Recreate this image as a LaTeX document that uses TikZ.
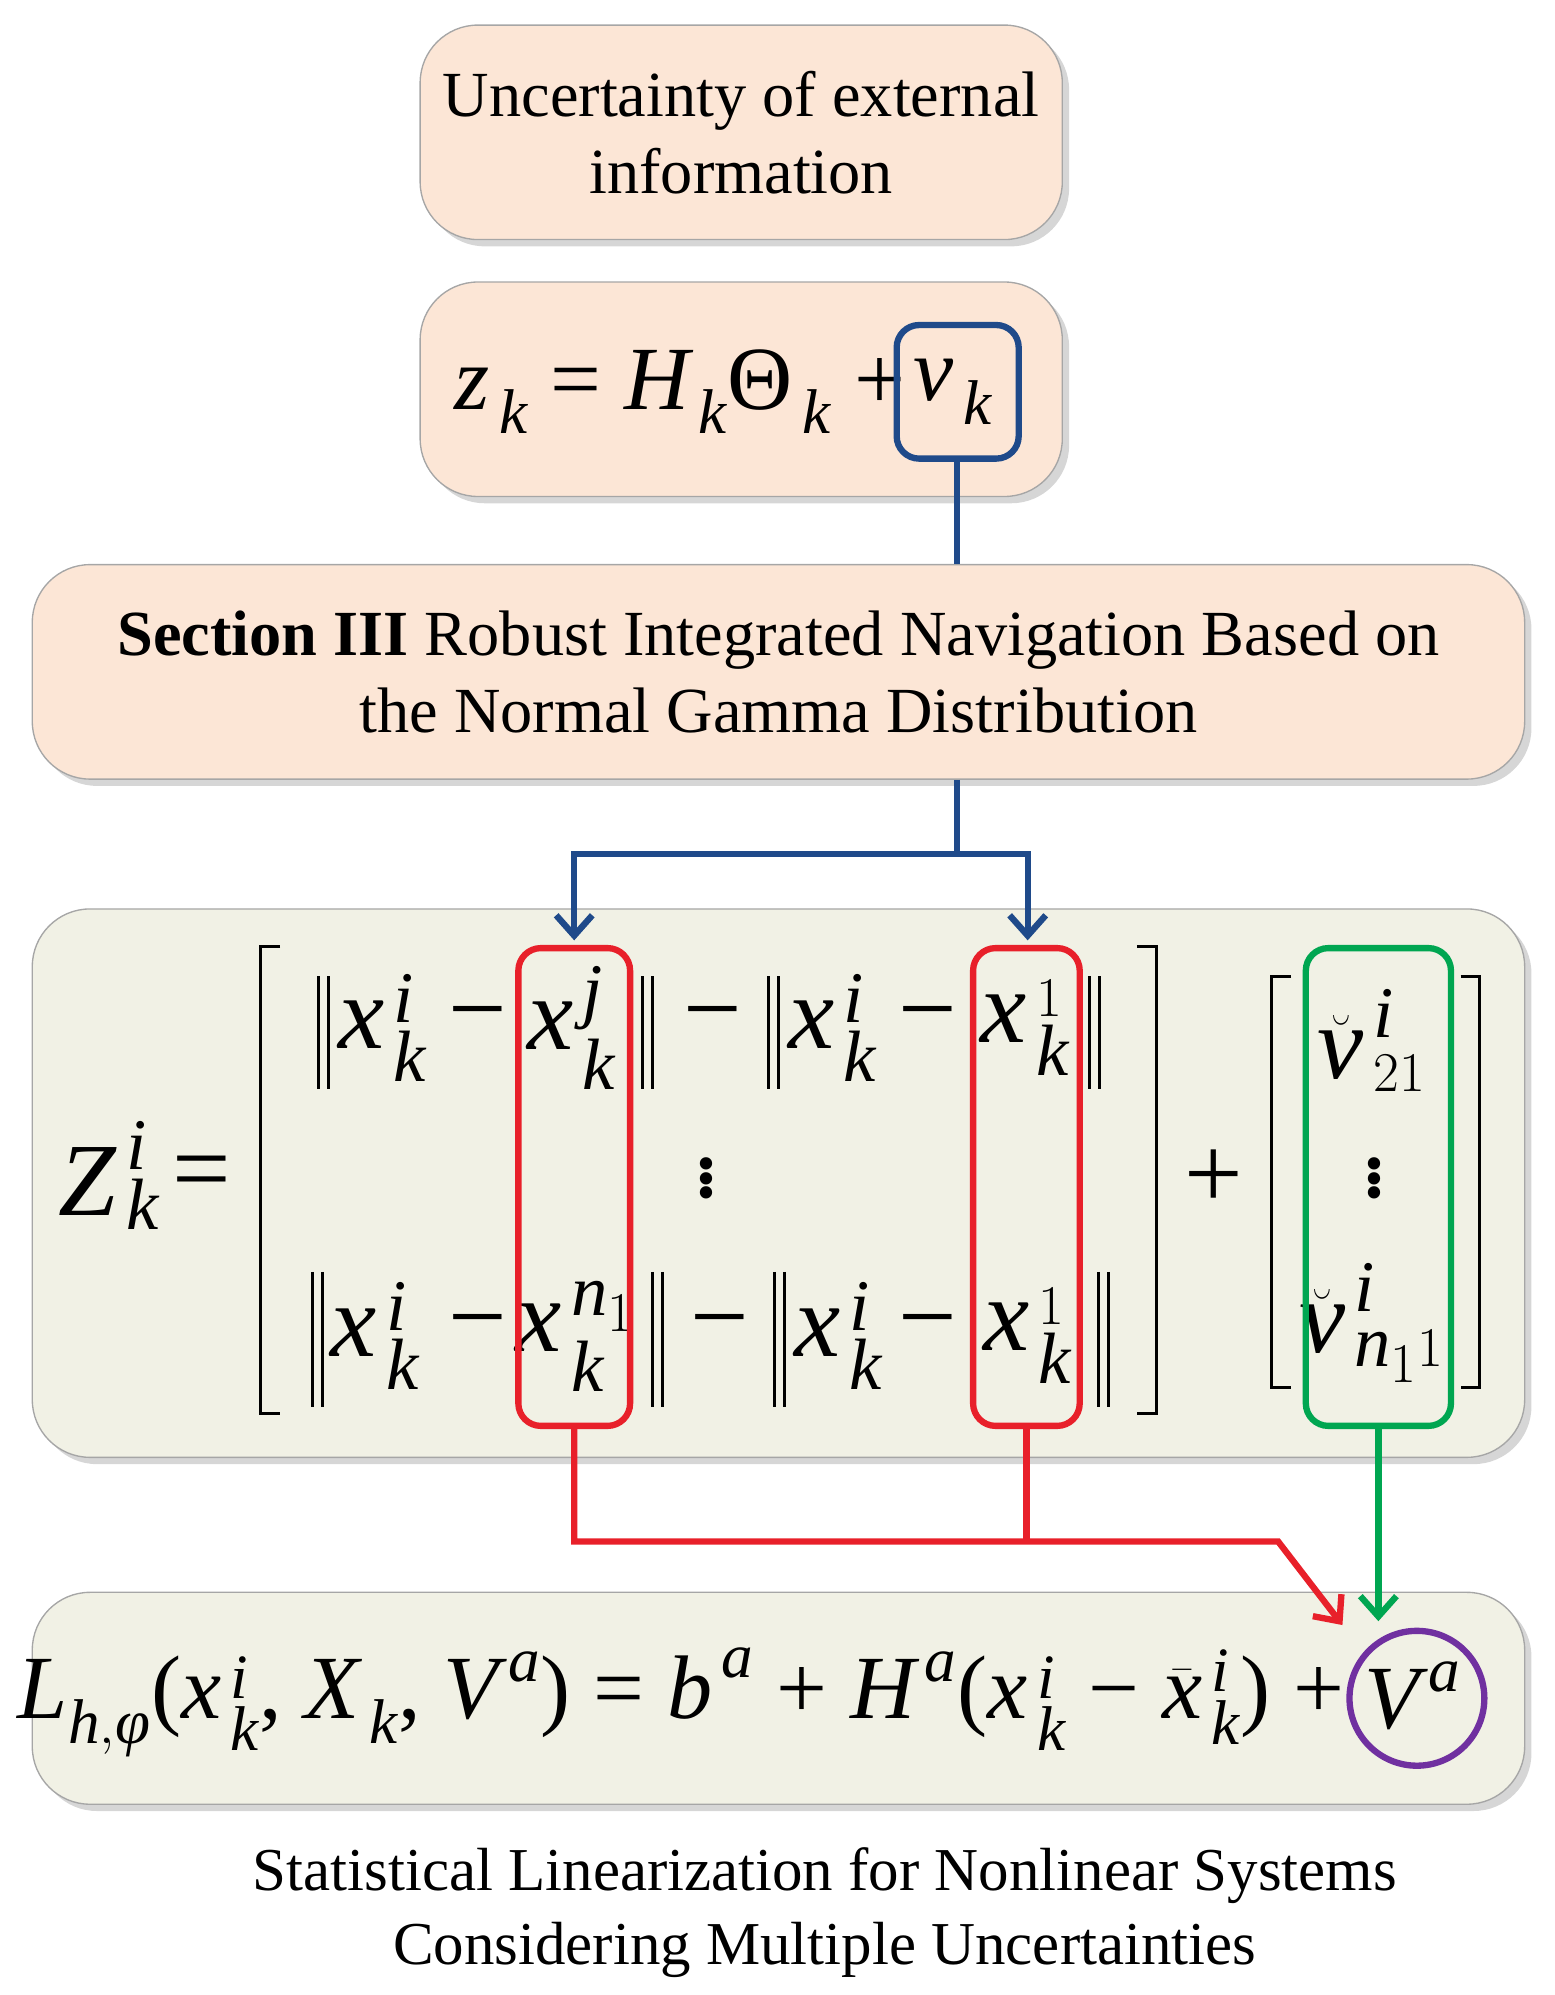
\documentclass[tikz,border=0pt]{standalone}
\usepackage{fontspec}
\usepackage{amsmath}
\setmainfont{Liberation Serif}
\usetikzlibrary{shadows,arrows.meta,calc}
\definecolor{peach}{HTML}{FCE6D6}
\definecolor{olivebg}{HTML}{F1F1E5}
\definecolor{bblue}{HTML}{1F4A8A}
\definecolor{rred}{HTML}{E8202A}
\definecolor{ggreen}{HTML}{00A651}
\definecolor{ppurple}{HTML}{7030A0}
\newcommand{\I}[1]{\text{\itshape #1}}
\newcommand{\T}[1]{\text{#1}}
\newcommand{\xki}[1]{\I{x}_{\,\I{k}}^{\,#1}}
\begin{document}
\begin{tikzpicture}[x=0.02cm,y=-0.02cm,
  box/.style={draw=gray!70,line width=0.6pt,rounded corners=0.9cm,inner sep=0pt,
     drop shadow={shadow xshift=3pt,shadow yshift=-3pt,fill=gray!40,opacity=0.8}},
  txt/.style={font=\fontsize{28.5}{34}\selectfont,align=center},
  mth/.style={font=\fontsize{46}{50}\selectfont,inner sep=0pt},
  mth2/.style={font=\fontsize{40}{44}\selectfont,inner sep=0pt},
  conn/.style={line width=2.8pt},
  hl/.style={line width=2.8pt,rounded corners=0.35cm},
  tip/.style={-{Straight Barb[length=9pt,width=16pt,line width=2.8pt]}},
  nb/.style={line width=1.3pt}]
\useasboundingbox (0,0) rectangle (1210,1553);
% boxes
\node[box,fill=peach,minimum width=10cm,minimum height=3.34cm] (b1) at (577,103) {};
\node[txt] (t1) at (577,103) {Uncertainty of external\\information};
\node[box,fill=peach,minimum width=10cm,minimum height=3.34cm] (b2) at (577,303) {};
\node[mth2,anchor=east] (eq2) at (705,305) {$\I{z}_{\,\I{k}}\T{ = }\I{H}_{\,\I{k}}\T{Θ}_{\,\I{k}}\T{ +}$};
\node[mth2] (vk) at (742,305) {$\I{v}_{\,\I{k}}$};
\node[box,fill=peach,minimum width=23.24cm,minimum height=3.34cm] (b3) at (606,523) {};
\node[txt] (t3) at (606,523) {\textbf{Section III} Robust Integrated Navigation Based on\\the Normal Gamma Distribution};
\node[box,fill=olivebg,minimum width=23.24cm,minimum height=8.54cm] (b4) at (606,921) {};
\node[box,fill=olivebg,minimum width=23.24cm,minimum height=3.3cm] (b5) at (606,1322) {};
% matrix contents
\node[mth] (Z) at (85,915) {$\I{Z}_{\,\I{k}}^{\,\I{i}}$};
\node[mth] (eq) at (157,918) {$\T{=}$};
\draw[line width=1.3pt] (218,737) -- (203,737) -- (203,1100) -- (218,1100);
\draw[line width=1.3pt] (885,737) -- (900,737) -- (900,1100) -- (885,1100);
% row 1
\foreach \xx in {248,500,598,848}{\draw[nb] (\xx,760) -- (\xx,848); \draw[nb] (\xx+8,760) -- (\xx+8,848);}
\node[mth] (a1) at (298,800) {$\xki{\I{i}}$};
\node[mth] (m1) at (372,798) {$\T{−}$};
\node[mth] (a2) at (445,800) {$\xki{\I{j}}$};
\node[mth] (m2) at (555,798) {$\T{−}$};
\node[mth] (a3) at (648,800) {$\xki{\I{i}}$};
\node[mth] (m3) at (722,798) {$\T{−}$};
\node[mth] (a4) at (798,800) {$\xki{1}$};
\node[mth] (d1) at (550,912) {$\vdots$};
% row 3
\foreach \xx in {243,508,603,855}{\draw[nb] (\xx,990) -- (\xx,1095); \draw[nb] (\xx+8,990) -- (\xx+8,1095);}
\node[mth] (c1) at (292,1040) {$\xki{\I{i}}$};
\node[mth] (n1) at (372,1038) {$\T{−}$};
\node[mth] (c2) at (448,1040) {$\xki{\I{n}_1}$};
\node[mth] (n2) at (560,1038) {$\T{−}$};
\node[mth] (c3) at (653,1040) {$\xki{\I{i}}$};
\node[mth] (n3) at (722,1038) {$\T{−}$};
\node[mth] (c4) at (800,1040) {$\xki{1}$};
\node[mth] (pl) at (945,918) {$\T{+}$};
\draw[line width=1.3pt] (1005,760) -- (990,760) -- (990,1080) -- (1005,1080);
\draw[line width=1.3pt] (1137,760) -- (1152,760) -- (1152,1080) -- (1137,1080);
\node[mth] (v1) at (1068,810) {$\breve{\I{v}}_{\,21}^{\,\I{i}}$};
\node[mth] (d2) at (1070,912) {$\vdots$};
\node[mth] (v2) at (1068,1030) {$\breve{\I{v}}_{\,\I{n}_1 1}^{\,\I{i}}$};
% bottom formula
\node[mth2,anchor=east] (eq5) at (1047,1325) {$\I{L}_{\I{h},\I{φ}}\T{(}\xki{\I{i}}\T{, }\I{X}_{\,\I{k}}\T{, }\I{V}^{\,\I{a}}\T{) = }\I{b}^{\,\I{a}}\T{ + }\I{H}^{\,\I{a}}\T{(}\xki{\I{i}}\T{ − }\bar{\I{x}}_{\,\I{k}}^{\,\I{i}}\T{) +}$};
\node[mth2] (Va) at (1100,1320) {$\I{V}^{\,\I{a}}$};
% highlights
\draw[bblue,hl] (698,253) rectangle (793,357);
\node[draw=rred,hl,minimum width=1.74cm,minimum height=7.44cm] (R1) at (447,924) {};
\node[draw=rred,hl,minimum width=1.66cm,minimum height=7.44cm] (R2) at (799,924) {};
\node[draw=ggreen,hl,minimum width=2.26cm,minimum height=7.44cm] (G1) at (1073,924) {};
\node[draw=ppurple,line width=2.8pt,circle,minimum size=2.1cm] (C) at (1103,1322) {};
% connectors
\coordinate (vb) at (745,357);
\draw[bblue,conn] (vb) -- (b3.north -| vb);
\coordinate (s) at (745,607);
\coordinate (m) at (745,665);
\draw[bblue,conn] (s) -- (m);
\draw[bblue,conn,tip] (m) -- (447,665) -- (447,732);
\draw[bblue,conn,tip] (m) -- (800,665) -- (800,732);
\coordinate (rj) at (995,1200);
\coordinate (rt) at (1045,1265);
\draw[rred,conn] (R2.south) -- (R2.south |- rj);
\draw[rred,conn,tip] (R1.south) -- (R1.south |- rj) -- (rj) -- (rt);
\draw[ggreen,conn,tip] (G1.south) -- (1073,1262);
% caption
\node[txt,font=\fontsize{27}{33}\selectfont] (cap) at (642,1489) {Statistical Linearization for Nonlinear Systems\\Considering Multiple Uncertainties};
\end{tikzpicture}
\end{document}
